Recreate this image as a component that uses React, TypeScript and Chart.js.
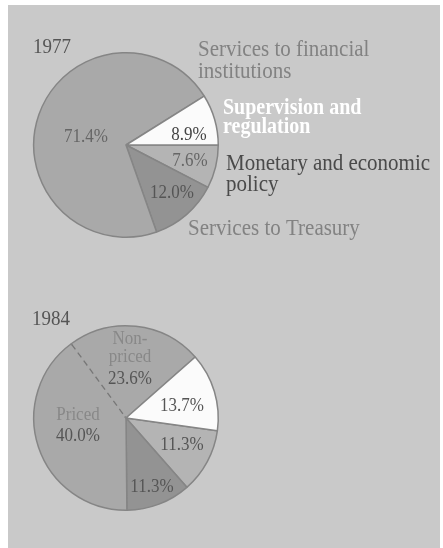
import React, { useEffect, useRef } from 'react';
import { Chart, registerables } from 'chart.js';
Chart.register(...registerables);

// ---- data ----
const years = ['1977', '1984'];
const categories1977 = ['Monetary and economic policy', 'Services to Treasury', 'Services to financial institutions', 'Supervision and regulation'];
const values1977 = [7.6, 12.0, 71.4, 8.9];
const categories1984 = ['Monetary and economic policy', 'Services to Treasury', 'Priced', 'Non-priced', 'Supervision and regulation'];
const values1984 = [11.3, 11.3, 40.0, 23.6, 13.7];

// ---- styles ----
const SERIF = '"Liberation Serif", "Times New Roman", serif';
const PANEL = '#c9c9c9';
const C_MON = '#b4b4b4';
const C_TRE = '#939393';
const C_FIN = '#a9a9a9';
const C_SUP = '#fbfbfb';
const BORDER = '#858585';
const STRETCH = 1.12;

const fmt = (v: number) => v.toFixed(1) + '%';

function txt(ctx: CanvasRenderingContext2D, s: string, x: number, y: number, font: string, color: string, align: CanvasTextAlign = 'left') {
  ctx.save();
  ctx.font = font;
  ctx.fillStyle = color;
  ctx.textAlign = align;
  ctx.textBaseline = 'middle';
  ctx.translate(x, y);
  ctx.scale(1, STRETCH);
  ctx.fillText(s, 0, 0);
  ctx.restore();
}

const labels1977Plugin = {
  id: 'labels1977',
  afterDatasetsDraw(chart: any) {
    const ctx = chart.ctx as CanvasRenderingContext2D;
    const meta = chart.getDatasetMeta(0);
    const cx = meta.data[0].x;
    const cy = meta.data[0].y;
    const big = `21px ${SERIF}`;
    const pct = `17px ${SERIF}`;
    txt(ctx, years[0], 33, 47, `19px ${SERIF}`, '#555');
    txt(ctx, 'Services to financial', 198, 50, big, '#828282');
    txt(ctx, 'institutions', 198, 72, big, '#828282');
    txt(ctx, 'Supervision and', 223, 108, `bold 20px ${SERIF}`, '#ffffff');
    txt(ctx, 'regulation', 223, 127, `bold 20px ${SERIF}`, '#ffffff');
    txt(ctx, 'Monetary and economic', 226, 164, big, '#4a4a4a');
    txt(ctx, 'policy', 226, 185, big, '#4a4a4a');
    txt(ctx, 'Services to Treasury', 188, 229, big, '#828282');
    txt(ctx, fmt(values1977[2]), cx - 40, cy - 8, pct, '#666', 'center');
    txt(ctx, fmt(values1977[3]), cx + 63, cy - 10, pct, '#444', 'center');
    txt(ctx, fmt(values1977[0]), cx + 64, cy + 16, pct, '#666', 'center');
    txt(ctx, fmt(values1977[1]), cx + 46, cy + 48, pct, '#555', 'center');
  },
};

const labels1984Plugin = {
  id: 'labels1984',
  afterDatasetsDraw(chart: any) {
    const ctx = chart.ctx as CanvasRenderingContext2D;
    const meta = chart.getDatasetMeta(0);
    const arc = meta.data[2];
    const cx = arc.x;
    const cy = arc.y;
    const r = arc.outerRadius;
    const a = arc.endAngle;
    // boundary between priced and non-priced: dashed
    ctx.save();
    ctx.strokeStyle = C_FIN;
    ctx.lineWidth = 3.5;
    ctx.beginPath();
    ctx.moveTo(cx + Math.cos(a) * 2, cy + Math.sin(a) * 2);
    ctx.lineTo(cx + Math.cos(a) * (r - 1.5), cy + Math.sin(a) * (r - 1.5));
    ctx.stroke();
    ctx.strokeStyle = '#777';
    ctx.lineWidth = 1.3;
    ctx.setLineDash([6, 4]);
    ctx.beginPath();
    ctx.moveTo(cx + Math.cos(a) * (r - 1), cy + Math.sin(a) * (r - 1));
    ctx.lineTo(cx + Math.cos(a) * 4, cy + Math.sin(a) * 4);
    ctx.stroke();
    ctx.restore();

    const pct = `17px ${SERIF}`;
    txt(ctx, years[1], 32, 45, `19px ${SERIF}`, '#555');
    txt(ctx, 'Non-', cx + 4, cy - 79, pct, '#888', 'center');
    txt(ctx, 'priced', cx + 4, cy - 61, pct, '#888', 'center');
    txt(ctx, fmt(values1984[3]), cx + 4, cy - 39, pct, '#555', 'center');
    txt(ctx, fmt(values1984[4]), cx + 56, cy - 12, pct, '#555', 'center');
    txt(ctx, 'Priced', cx - 48, cy - 3, pct, '#888', 'center');
    txt(ctx, fmt(values1984[2]), cx - 48, cy + 18, pct, '#555', 'center');
    txt(ctx, fmt(values1984[0]), cx + 56, cy + 27, pct, '#555', 'center');
    txt(ctx, fmt(values1984[1]), cx + 26, cy + 69, pct, '#555', 'center');
  },
};

function PieCanvas({ labels, values, colors, rotation, padding, plugin, top }: any) {
  const ref = useRef<HTMLCanvasElement>(null);
  useEffect(() => {
    if (!ref.current) return;
    const chart = new Chart(ref.current, {
      type: 'pie',
      data: {
        labels,
        datasets: [{ data: values, backgroundColor: colors, borderColor: BORDER, borderWidth: 1.5, hoverOffset: 0 }],
      },
      options: {
        animation: false,
        responsive: false,
        rotation,
        layout: { padding },
        plugins: { legend: { display: false }, tooltip: { enabled: false } },
      },
      plugins: [plugin],
    } as any);
    return () => chart.destroy();
  }, []);
  return (
    <canvas
      ref={ref}
      width={443}
      height={274}
      style={{ position: 'absolute', left: 0, top, width: 443, height: 274, display: 'block' }}
    />
  );
}

export default function App() {
  return (
    <div style={{ position: 'fixed', left: 0, top: 0, width: 443, height: 548, background: '#fff', overflow: 'hidden' }}>
      <div style={{ position: 'absolute', left: 8, top: 5, width: 432, height: 543, background: PANEL }} />
      <PieCanvas
        labels={categories1977}
        values={values1977}
        colors={[C_MON, C_TRE, C_FIN, C_SUP]}
        rotation={90}
        padding={{ left: 33, top: 52, right: 224, bottom: 36 }}
        plugin={labels1977Plugin}
        top={0}
      />
      <PieCanvas
        labels={categories1984}
        values={values1984}
        colors={[C_MON, C_TRE, C_FIN, C_FIN, C_SUP]}
        rotation={98}
        padding={{ left: 33, top: 51, right: 224, bottom: 37 }}
        plugin={labels1984Plugin}
        top={274}
      />
    </div>
  );
}
